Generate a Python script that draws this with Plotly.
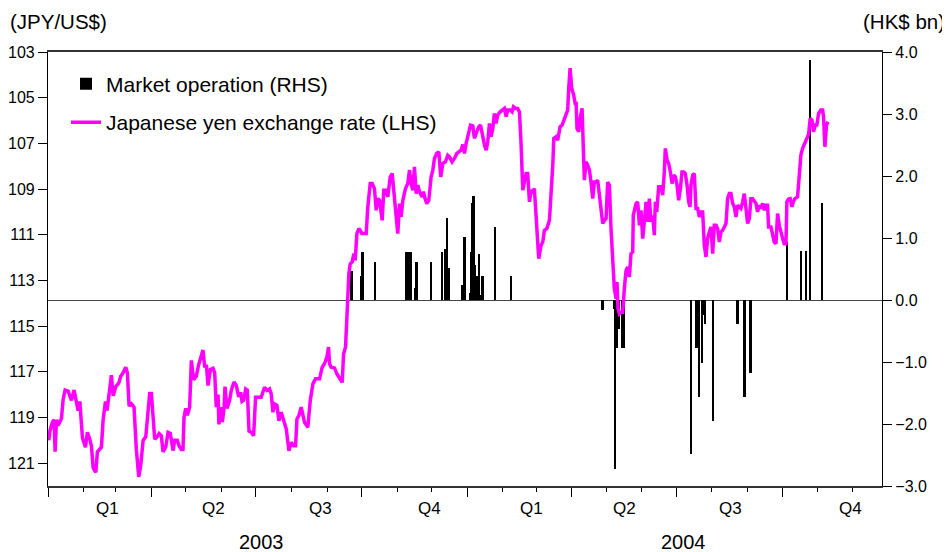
import pandas as pd
import plotly.graph_objects as go

START = pd.Timestamp("2003-01-01")

# Japanese yen exchange rate (JPY per US$), days counted from 1 Jan 2003
yen_day = [
    0.7, 1.6, 3.9, 5.3, 6.2, 7.4, 8.8, 11.7, 13.2, 14.9, 17.5, 20.4, 22.7, 24.8, 26.2, 27.7,
    30.0, 32.6, 34.3, 36.4, 37.8, 39.3, 41.6, 43.0, 46.5, 48.0, 50.0, 51.4, 53.2, 55.2, 56.7,
    59.0, 61.6, 63.3, 65.3, 67.7, 69.1, 70.6, 72.6, 74.9, 76.9, 79.0, 80.7, 82.8, 85.1, 86.5,
    88.5, 90.0, 91.4, 92.9, 94.9, 96.7, 98.7, 100.1, 102.5, 104.5, 106.5, 108.8, 110.3, 112.6,
    114.1, 116.1, 117.5, 118.4, 119.9, 121.3, 123.3, 124.8, 126.8, 129.1, 131.1, 132.9, 134.9,
    136.4, 137.9, 139.3, 141.4, 143.7, 145.1, 146.5, 148.0, 148.8, 150.3, 151.8, 153.3, 154.1,
    155.8, 158.1, 159.6, 161.9, 163.9, 166.0, 167.7, 168.9, 170.3, 172.1, 173.5, 175.0,
    176.9, 179.0, 180.7, 182.7, 185.6, 188.5, 190.6, 192.9, 194.3, 195.8, 197.2, 199.3, 201.0,
    203.0, 204.5, 207.4, 209.7, 211.7, 213.8, 215.5, 216.7, 218.4, 220.4, 221.9, 223.3, 226.2,
    228.3, 230.6, 232.9, 236.4, 238.7, 240.7, 242.8, 244.2, 245.1, 246.5, 249.4, 251.5, 253.8,
    256.1, 257.3, 259.0, 260.2, 261.0, 261.9, 263.1, 264.8, 266.3, 267.4, 268.9, 270.6, 271.8,
    273.2, 275.5, 277.0, 278.4, 280.5, 282.2, 284.2, 285.7, 287.1, 288.6, 290.9, 292.3, 294.4,
    295.8, 297.9, 299.6, 301.0, 302.5, 304.5, 306.0, 307.4, 308.9, 311.2, 313.2, 314.7, 316.1,
    317.6, 319.0, 320.5, 321.9, 323.4, 325.7, 326.8, 328.3, 329.7, 331.5, 333.5, 335.0, 336.4,
    338.4, 340.2, 341.9, 343.7, 346.0, 348.0,
    349.5, 351.8, 353.8, 355.9, 357.6, 359.6, 361.1, 362.5, 364.0, 366.3, 367.8, 369.8, 371.2,
    373.3, 375.0, 376.5, 377.9, 380.0, 381.4, 382.8, 384.3, 385.7, 387.2, 388.6, 390.1, 391.5,
    393.6, 395.9, 397.3, 398.8, 400.2, 402.3, 404.0, 405.2, 406.9, 408.9, 410.4, 411.8, 413.3,
    414.7, 416.2, 417.6, 419.1, 420.5, 422.0, 423.4, 424.9, 426.3, 427.2, 429.2, 430.7, 432.1,
    434.2, 436.5, 437.9, 439.4, 440.3, 442.3, 443.7, 445.8, 447.5, 449.5, 451.0, 452.4, 453.3,
    454.5, 455.9, 457.6, 459.1, 459.7, 460.5, 462.0, 463.2, 464.9, 466.9, 468.4, 469.8, 471.3,
    472.7, 474.2, 475.6, 477.1, 478.5, 480.0, 481.4, 482.9, 484.3, 485.8, 487.2, 488.7, 490.1,
    491.6, 493.0, 494.5, 495.3, 496.2, 497.4, 498.8, 500.3, 501.7, 503.2, 504.6, 506.1, 507.5,
    509.0, 509.5, 511.9, 513.3, 514.8,
    516.2, 517.7, 519.1, 520.6, 522.0, 523.5, 524.9, 526.4, 527.8, 528.7, 529.9, 531.6, 533.6,
    535.1, 536.5, 537.4, 538.9, 540.3, 541.8, 543.2, 544.7, 546.1, 547.6, 549.0, 550.5, 551.9,
    553.4, 554.8, 556.3, 557.7, 558.9, 559.7, 561.2, 562.6, 564.1, 565.5, 567.0, 568.4, 569.9,
    571.3, 572.8, 574.2, 575.7, 577.1, 578.6, 580.0, 581.5, 582.9, 584.4, 585.8, 587.3, 588.7,
    590.2, 591.6, 593.1, 594.5, 596.0, 597.4, 598.9, 600.3, 601.8, 603.2, 604.7, 606.1, 607.6,
    609.0, 610.5, 611.9, 613.4, 614.8, 616.3, 617.7, 619.2, 620.6, 622.1, 623.5, 625.0, 626.4,
    627.3, 629.3, 630.8, 632.2, 633.7, 635.1, 636.6, 638.0, 639.5, 640.9, 642.4, 643.2, 644.7,
    646.1, 647.6, 648.8, 650.2, 652.5, 653.4, 654.5, 655.4, 656.9, 658.9, 660.6, 662.1, 663.5,
    665.0, 666.4, 667.9, 669.3, 670.8, 672.8, 674.3, 675.1, 676.3, 677.7, 678.9,
]
yen_rate = [
    120.0, 119.6, 119.2, 119.1, 120.5, 119.1, 119.35, 119.05, 118.2, 117.8, 117.85, 118.25, 117.8, 118.25, 118.7, 118.3,
    119.9, 120.3, 119.65, 119.95, 120.25, 121.2, 121.4, 120.5, 120.3, 119.1, 118.3, 118.7, 117.95, 117.15, 118.05,
    117.65, 117.5, 117.2, 117.05, 116.8, 117.05, 118.5, 118.4, 118.55, 120.4, 121.6, 121.1, 120.0, 119.85, 119.2,
    117.95, 117.95, 119.1, 119.95, 119.85, 119.7, 119.8, 120.5, 120.3, 119.65, 119.7, 120.45, 120.0, 120.0,
    120.25, 120.4, 120.4, 119.0, 118.6, 118.9, 118.55, 116.5, 117.35, 117.2, 116.7, 116.35, 116.05,
    116.8, 116.7, 117.6, 116.9, 116.85, 117.05, 118.55, 118.0, 119.3, 118.55, 119.2, 118.55, 117.65,
    118.6, 118.25, 117.8, 117.45, 117.6, 118.1, 117.9, 118.3, 118.25, 117.75, 117.8, 119.6,
    119.65, 119.80, 118.12, 118.12, 118.12, 117.68, 117.82, 117.75, 117.97, 118.77, 118.41, 118.48, 119.14,
    118.77, 118.99, 119.50, 120.46, 120.09, 120.24, 120.24, 119.07, 118.92, 118.55, 118.99, 119.21, 119.43,
    118.26, 117.53, 117.31, 117.31, 116.80, 116.65, 116.36, 115.92, 116.65, 116.80, 116.83, 117.09, 117.31,
    117.46, 116.22, 115.92, 114.61, 113.73, 112.71, 112.27, 112.19, 111.83, 112.12, 110.95, 110.73, 110.81,
    110.95, 110.95, 110.95, 109.78, 108.76, 108.76, 108.98, 109.93, 109.42, 109.49, 110.37, 109.05, 109.05,
    109.34, 108.47, 108.32, 109.05, 110.22, 110.95, 109.64, 110.22, 109.49, 108.98, 108.76, 108.17, 108.76,
    109.05, 108.03, 109.20, 108.83, 109.12, 109.34, 109.12, 109.42, 109.64, 109.49, 108.47, 108.17, 107.66,
    107.44, 107.37, 108.47, 107.88, 107.81, 107.52,
    107.59, 107.81, 107.66, 107.44, 107.37, 107.30, 107.05, 107.44, 107.00, 106.49, 106.20, 106.23, 106.78,
    106.49, 106.27, 106.20, 106.64, 107.08, 107.30, 106.93, 106.13, 106.71, 106.35, 105.69, 106.13, 105.76,
    105.62, 105.54, 105.47, 105.83, 105.54, 105.54, 105.62, 105.40, 105.47, 105.47, 105.62, 107.00, 109.05,
    108.69, 108.32, 108.32, 109.56, 109.05, 109.12, 108.98, 110.07, 111.32, 112.05, 111.46, 111.32, 110.81,
    110.73, 110.37, 109.27, 107.95, 106.78, 106.71, 106.86, 106.27, 106.20, 105.91, 105.76, 105.54, 104.59,
    103.71, 104.59, 104.88, 105.32, 105.18, 106.35, 106.49, 105.91, 105.47, 108.61, 107.81, 107.95, 108.17,
    108.69, 109.42, 108.69, 108.69, 108.61, 109.27, 110.00, 110.51, 110.37, 110.29, 108.69, 108.83, 110.73,
    112.19, 113.36, 113.80, 113.07, 114.24, 114.46, 114.39, 114.39, 113.36, 112.56, 112.41, 112.85, 111.83,
    111.76, 110.15, 109.64, 109.56, 110.59,
    109.93, 111.17, 110.44, 109.56, 110.44, 109.42, 110.44, 110.15, 111.02, 109.56, 110.00, 108.90, 108.90,
    109.27, 108.25, 107.22, 107.73, 107.88, 108.25, 108.76, 108.39, 108.46, 108.83, 109.49, 108.98, 108.25,
    108.25, 108.32, 108.83, 109.56, 109.78, 108.83, 108.39, 108.32, 109.85, 109.85, 110.22, 110.00, 110.00,
    111.46, 111.97, 111.17, 110.88, 110.66, 111.83, 110.59, 110.59, 110.73, 111.32, 110.88, 110.80, 110.66,
    110.51, 109.42, 109.20, 109.20, 109.63, 109.78, 110.22, 109.71, 109.78, 109.85, 109.56, 109.20, 109.85,
    110.51, 110.29, 109.42, 109.42, 109.56, 109.63, 110.00, 109.71, 109.85, 109.63, 109.93, 109.71, 109.71,
    110.66, 110.66, 110.95, 111.32, 111.39, 110.07, 110.59, 110.95, 111.17, 111.39, 111.39, 109.56, 109.44,
    109.42, 109.78, 109.56, 109.42, 109.34, 108.83, 108.32, 107.51, 107.22, 107.00, 106.78, 106.61, 105.91,
    105.98, 106.49, 106.20, 106.20, 105.69, 105.54, 105.54, 105.83, 107.15, 106.20, 106.05,
]

# Market operations (HK$ bn), days counted from 1 Jan 2003
op_day = [
    264.3, 273.0, 274.1, 284.9, 312, 313, 314, 315, 316, 319.7, 321.1, 333.6, 343.4, 346.3,
    347.5, 348.9, 361.1, 362.6, 367.5, 368.6, 369.5, 370.6, 371.9, 373.0, 374.5, 375.6, 377.1,
    378.5, 389.5, 403.4,
    482.9, 493.0, 493.9, 495.0, 496.8, 499.7, 501.1, 560.0, 564.6, 566.7, 569.3, 570.5, 571.9,
    578.9, 600.3, 606.4, 611.6,
    643.3, 655.5, 660.1, 663.3, 674.2,
]
op_value = [
    0.47, 0.38, 0.77, 0.62, 0.78, 0.78, 0.78, 0.78, 0.78, 0.19, 0.62, 0.62, 0.77, 0.83,
    1.32, 0.51, 0.24, 1.01, 0.11, 0.78, 1.56, 1.68, 0.56, 0.38, 0.39, 0.74, 0.08,
    0.38, 1.17, 0.39,
    -0.16, -0.15, -2.72, -0.78, -0.47, -0.78, -0.78, -2.48, -0.78, -1.56, -1.01, -0.24, -0.39,
    -1.95, -0.39, -1.56, -1.17,
    0.94, 0.79, 0.79, 3.87, 1.56,
]

quarter_labels = ["Q1", "Q2", "Q3", "Q4", "Q1", "Q2", "Q3", "Q4"]
quarter_label_dates = ["2003-02-22", "2003-05-25", "2003-08-26", "2003-11-29",
                       "2004-02-26", "2004-05-17", "2004-08-17", "2004-11-30"]
year_labels = ["2003", "2004"]
year_label_dates = ["2003-07-06", "2004-07-07"]

yen_dates = START + pd.to_timedelta(yen_day, unit="D")
op_dates = START + pd.to_timedelta(op_day, unit="D")

FONT = "Liberation Sans, Arial, sans-serif"
DAY_MS = 86400000

fig = go.Figure()
fig.add_trace(go.Bar(
    x=op_dates, y=op_value, name="Market operation (RHS)",
    marker=dict(color="#000000", line=dict(width=0)),
    width=1.7 * DAY_MS, yaxis="y", legendgroup="a",
))
fig.add_trace(go.Scatter(
    x=yen_dates, y=yen_rate, name="Japanese yen exchange rate (LHS)",
    mode="lines", line=dict(color="#FF00FF", width=3.5),
    yaxis="y2", legendgroup="b",
))

ann = []
for lab, d in zip(quarter_labels, quarter_label_dates):
    ann.append(dict(x=d, y=0, xref="x", yref="paper", text=lab, showarrow=False,
                    xanchor="center", yanchor="middle", yshift=-22,
                    font=dict(size=17, color="#000", family=FONT)))
for lab, d in zip(year_labels, year_label_dates):
    ann.append(dict(x=d, y=0, xref="x", yref="paper", text=lab, showarrow=False,
                    xanchor="center", yanchor="middle", yshift=-56,
                    font=dict(size=20, color="#000", family=FONT)))
ann.append(dict(x=0, y=1, xref="paper", yref="paper", xanchor="left", yanchor="top",
                xshift=-39, yshift=43, text="(JPY/US$)", showarrow=False, borderpad=0,
                font=dict(size=20.5, color="#000", family=FONT)))
ann.append(dict(x=1, y=1, xref="paper", yref="paper", xanchor="right", yanchor="top",
                xshift=64, yshift=43, text="(HK$ bn)", showarrow=False, borderpad=0,
                font=dict(size=20.5, color="#000", family=FONT)))

# page body adds an 8px offset; size the figure so the plot area lands where the reference has it
fig.update_layout(
    width=942, height=544,
    margin=dict(l=40, r=68, t=44, b=66, autoexpand=False),
    paper_bgcolor="white", plot_bgcolor="white",
    font=dict(family=FONT, color="#000", size=16),
    showlegend=True,
    legend=dict(x=0.0216, y=0.973, xanchor="left", yanchor="top",
                bgcolor="rgba(255,255,255,0)", font=dict(size=21, family=FONT),
                tracegroupgap=8, traceorder="grouped"),
    bargap=0,
    annotations=ann,
    xaxis=dict(
        type="date", range=["2003-01-01", "2004-12-27"],
        tick0="2003-01-01", dtick="M3", ticks="outside", ticklen=9, tickwidth=1.2,
        tickcolor="#000", showticklabels=False,
        minor=dict(dtick="M1", ticks="outside", ticklen=4, tickcolor="#000", showgrid=False),
        showgrid=False, showline=True, linecolor="#333", linewidth=1.5, mirror=True,
        zeroline=False, automargin=False,
    ),
    yaxis=dict(
        side="right", range=[-3, 4], dtick=1, tickformat=".1f",
        ticks="outside", ticklen=9, tickcolor="#000", showgrid=False,
        showline=True, linecolor="#000", linewidth=1.2,
        zeroline=True, zerolinecolor="#444", zerolinewidth=1,
        tickfont=dict(size=16), automargin=False,
    ),
    yaxis2=dict(
        side="left", overlaying="y", anchor="x", range=[122, 103],
        tickvals=[103, 105, 107, 109, 111, 113, 115, 117, 119, 121],
        ticks="outside", ticklen=9, tickcolor="#000", showgrid=False,
        showline=True, linecolor="#000", linewidth=1.2, zeroline=False,
        tickfont=dict(size=16), automargin=False,
    ),
)

fig.write_html("out.html")
